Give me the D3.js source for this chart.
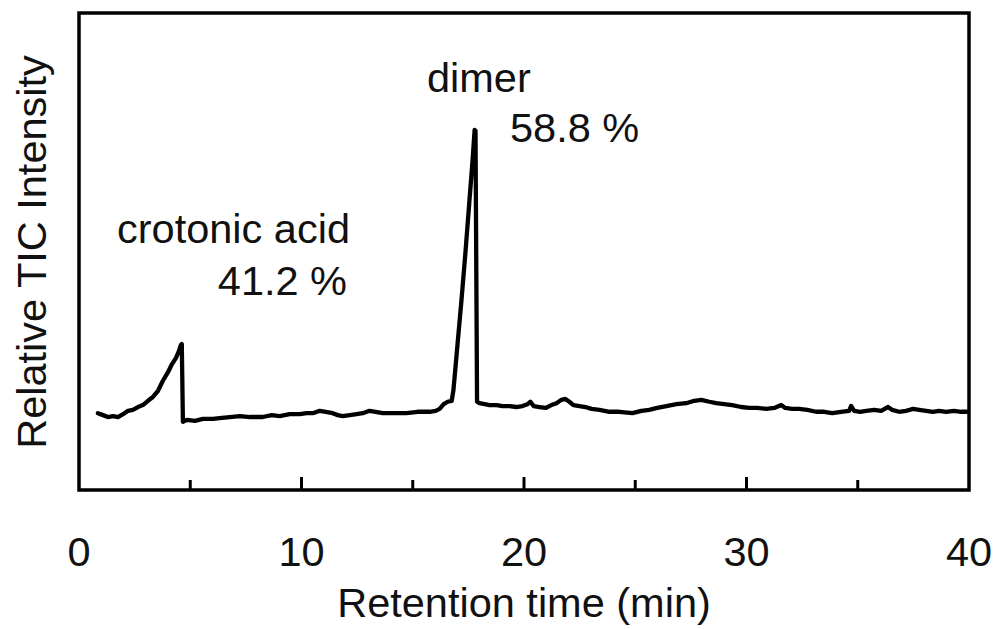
<!DOCTYPE html>
<html>
<head>
<meta charset="utf-8">
<script src="https://cdn.jsdelivr.net/npm/d3@7"></script>
<style>
  body { margin: 0; background: #fff; }
  svg text { font-family: "Liberation Sans", Arial, sans-serif; fill: #111; }
</style>
</head>
<body>
<svg id="chart" width="998" height="629"></svg>
<script>
//Data (retention time in min, relative TIC intensity)
var retentionTime = [
  0.85, 1.08, 1.30, 1.53, 1.75, 1.98, 2.20, 2.42, 2.65, 2.87, 3.10, 3.32, 3.55, 3.77, 4.00, 4.18, 4.36, 4.49, 4.58, 4.62, 4.67,
  4.85, 5.21, 5.57, 6.02, 6.42, 6.78, 7.23, 7.68, 8.26, 8.66, 9.02, 9.47, 9.92, 10.24, 10.51, 10.82, 11.09, 11.40, 11.63, 11.85,
  12.17, 12.48, 12.75, 13.06, 13.33, 13.65, 14.19, 14.72, 15.22, 15.76, 16.03, 16.21, 16.39, 16.57, 16.75,
  16.83, 17.01, 17.19, 17.37, 17.55, 17.69, 17.78, 17.82, 17.89,
  18.00, 18.23, 18.45, 18.77, 19.03, 19.35, 19.66, 19.93, 20.16, 20.29, 20.43, 20.70, 20.97, 21.23, 21.46, 21.68, 21.86, 22.04,
  22.22, 22.49, 22.76, 23.03, 23.39, 23.84, 24.29, 24.87, 25.28, 25.63, 25.99, 26.40, 26.85, 27.29, 27.65, 27.97, 28.33, 28.64,
  29.00, 29.36, 29.76, 30.12, 30.48, 30.89, 31.25, 31.56, 31.74, 32.05, 32.37, 32.73, 33.13, 33.49, 33.85, 34.25, 34.61, 34.70,
  34.84, 35.11, 35.38, 35.74, 36.05, 36.36, 36.54, 36.86, 37.17, 37.49, 37.76, 38.07, 38.38, 38.65, 38.97, 39.33, 39.64, 39.91
];
var intensity = [
  16.1, 15.7, 15.3, 15.5, 15.3, 15.9, 16.6, 16.8, 17.4, 17.8, 18.7, 19.5, 20.8, 22.9, 24.7, 26.4, 27.7, 29.1, 30.4, 30.6, 14.3,
  14.7, 14.5, 14.9, 14.9, 15.1, 15.3, 15.5, 15.3, 15.3, 15.7, 15.5, 15.9, 15.9, 16.1, 16.1, 16.6, 16.4, 16.1, 15.7, 15.5,
  15.7, 15.9, 16.1, 16.6, 16.4, 16.1, 16.1, 16.1, 16.4, 16.4, 16.6, 17.0, 18.0, 18.5, 18.7,
  21.0, 30.4, 39.8, 49.9, 60.8, 69.2, 75.5, 75.3, 18.5,
  18.2, 18.0, 17.8, 17.8, 17.6, 17.6, 17.4, 17.6, 18.0, 18.5, 17.6, 17.4, 17.2, 17.8, 18.2, 18.9, 19.1, 18.5,
  17.8, 17.6, 17.4, 17.0, 16.8, 16.4, 16.4, 16.1, 16.6, 16.8, 17.2, 17.6, 18.0, 18.2, 18.7, 18.9, 18.5, 18.2,
  18.0, 17.8, 17.4, 17.2, 17.2, 17.0, 17.2, 17.8, 17.2, 17.0, 17.0, 16.8, 16.4, 16.4, 16.1, 16.4, 16.6, 17.6,
  16.6, 16.4, 16.6, 16.8, 16.6, 17.4, 16.8, 16.4, 16.6, 17.0, 16.8, 16.6, 16.4, 16.6, 16.4, 16.6, 16.4, 16.4
];
var tickValues = [0, 5, 10, 15, 20, 25, 30, 35, 40];
var tickLabels = ["0", "10", "20", "30", "40"];
var peakNames = ["crotonic acid", "dimer"];
var peakShares = ["41.2 %", "58.8 %"];

// note: "top" is taken by window.top, so the box edges get their own names
var svg = d3.select("#chart"),
  boxLeft = 79,
  boxRight = 969,
  boxTop = 13,
  boxBottom = 490,
  fontSize = "41.5px";

var x = d3.scaleLinear().domain([0, 40]).range([boxLeft, boxRight]);
var y = d3.scaleLinear().domain([0, 100]).range([boxBottom, boxTop]);

var points = retentionTime.map((t, i) => [t, intensity[i]]);

// trace
svg
  .append("path")
  .datum(points)
  .attr("fill", "none")
  .attr("stroke", "#000")
  .attr("stroke-width", 4.3)
  .attr("stroke-linejoin", "round")
  .attr("stroke-linecap", "round")
  .attr("d", d3.line().x((d) => x(d[0])).y((d) => y(d[1])));

// ticks point inward, longer at labelled values
svg
  .append("g")
  .selectAll("line")
  .data(tickValues.slice(1, -1))
  .join("line")
  .attr("x1", (d) => x(d))
  .attr("x2", (d) => x(d))
  .attr("y1", boxBottom)
  .attr("y2", (d) => (d % 10 === 0 ? boxBottom - 13 : boxBottom - 10))
  .attr("stroke", "#000")
  .attr("stroke-width", 3);

// frame
svg
  .append("rect")
  .attr("x", boxLeft)
  .attr("y", boxTop)
  .attr("width", boxRight - boxLeft)
  .attr("height", boxBottom - boxTop)
  .attr("fill", "none")
  .attr("stroke", "#000")
  .attr("stroke-width", 3.5);

svg
  .append("g")
  .selectAll("text")
  .data(tickLabels)
  .join("text")
  .attr("x", (d) => x(+d))
  .attr("y", 566)
  .attr("text-anchor", "middle")
  .style("font-size", fontSize)
  .text((d) => d);

svg
  .append("text")
  .attr("x", 524)
  .attr("y", 617)
  .attr("text-anchor", "middle")
  .style("font-size", fontSize)
  .text("Retention time (min)");

svg
  .append("text")
  .attr("transform", "translate(46,252) rotate(-90)")
  .attr("text-anchor", "middle")
  .style("font-size", fontSize)
  .text("Relative TIC Intensity");

// peak annotations
svg.append("text").attr("x", 117).attr("y", 243).style("font-size", fontSize).text(peakNames[0]);
svg.append("text").attr("x", 347).attr("y", 295).attr("text-anchor", "end").style("font-size", fontSize).text(peakShares[0]);
svg.append("text").attr("x", 427).attr("y", 92).style("font-size", fontSize).text(peakNames[1]);
svg.append("text").attr("x", 510).attr("y", 142).style("font-size", fontSize).text(peakShares[1]);
</script>
</body>
</html>
